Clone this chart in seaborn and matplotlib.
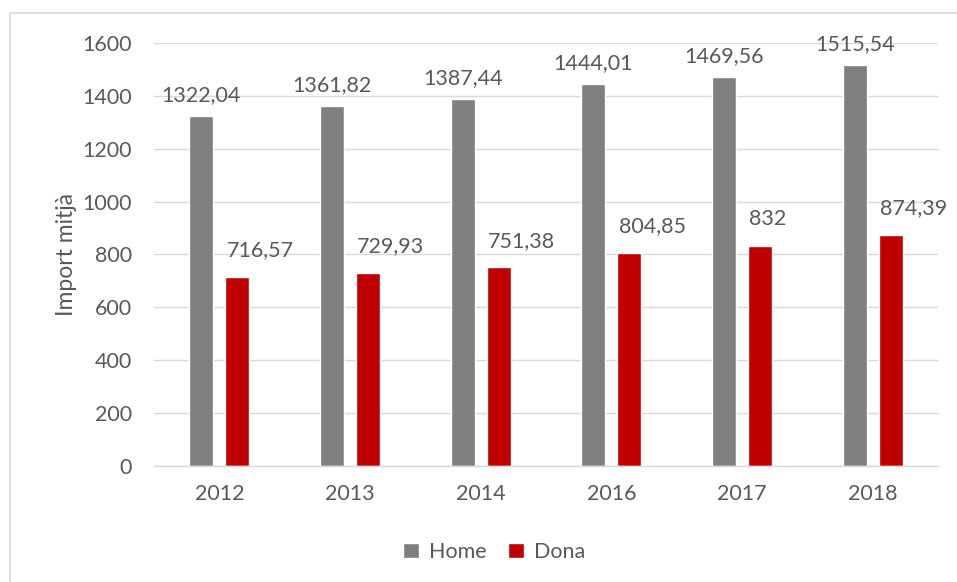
import matplotlib
matplotlib.use("Agg")
import matplotlib.pyplot as plt
import seaborn as sns
import pandas as pd
from matplotlib.patches import Rectangle

years = ["2012", "2013", "2014", "2016", "2017", "2018"]
home = [1322.04, 1361.82, 1387.44, 1444.01, 1469.56, 1515.54]
dona = [716.57, 729.93, 751.38, 804.85, 832.00, 874.39]
home_labels = ["1322,04", "1361,82", "1387,44", "1444,01", "1469,56", "1515,54"]
dona_labels = ["716,57", "729,93", "751,38", "804,85", "832", "874,39"]
series = ["Home", "Dona"]
colors = {"Home": "#7f7f7f", "Dona": "#c00000"}

df = pd.DataFrame({
    "year": years * 2,
    "value": home + dona,
    "serie": ["Home"] * len(years) + ["Dona"] * len(years),
})

sns.set_theme(style="white")
plt.rcParams["font.family"] = ["Lato", "DejaVu Sans"]
txt = "#595959"
grid = "#d9d9d9"
fs = 15.5

fig = plt.figure(figsize=(9.57, 5.82), dpi=100)
ax = fig.add_axes([154 / 957, 1 - 466 / 582, (938 - 154) / 957, (466 - 43) / 582])

sns.barplot(data=df, x="year", y="value", hue="serie", hue_order=series,
            palette=colors, width=0.55, gap=0.33, saturation=1, ax=ax,
            legend=True)

ax.bar_label(ax.containers[0], labels=home_labels, padding=8, fontsize=fs, color=txt)
for p, lab in zip(ax.containers[1].patches, dona_labels):
    ax.annotate(lab, (p.get_x(), p.get_height()), xytext=(1, 12),
                textcoords="offset points", ha="left", va="bottom",
                fontsize=fs, color=txt)

ax.set_ylim(0, 1600)
ax.set_yticks(range(0, 1601, 200))
ax.yaxis.grid(True, color=grid, linewidth=1)
ax.set_axisbelow(True)
for s in ["top", "right", "left"]:
    ax.spines[s].set_visible(False)
ax.spines["bottom"].set_color(grid)
ax.spines["bottom"].set_linewidth(1)
ax.tick_params(axis="both", length=0, labelsize=fs, colors=txt)
ax.tick_params(axis="x", pad=13)
ax.tick_params(axis="y", pad=16)
ax.set_xlabel("")
ax.set_ylabel("Import mitjà", fontsize=16.5, color=txt, labelpad=4)

handles, labels = ax.get_legend_handles_labels()
ax.get_legend().remove()
leg = fig.legend(handles, labels, loc="center",
                 bbox_to_anchor=(494 / 957, 1 - 552 / 582),
                 ncol=2, frameon=False, fontsize=fs, handlelength=0.75,
                 handleheight=0.75, columnspacing=1.0, handletextpad=0.45)
for t in leg.get_texts():
    t.set_color(txt)

fig.patches.append(Rectangle((10 / 957, -0.05), 1.0, 1 - 13 / 582 + 0.05,
                             transform=fig.transFigure, fill=False,
                             edgecolor=grid, linewidth=1.2))

fig.savefig("out.png", dpi=100)
